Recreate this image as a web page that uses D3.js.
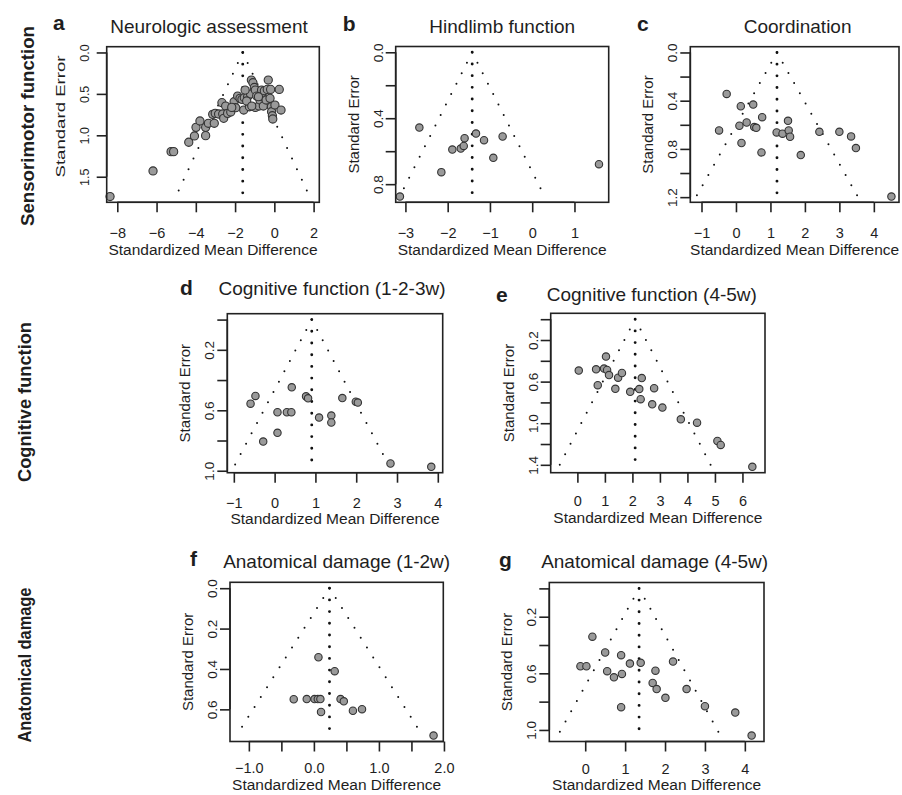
<!DOCTYPE html>
<html>
<head>
<meta charset="utf-8">
<script src="https://cdn.jsdelivr.net/npm/d3@7"></script>
<style>
  body { margin: 0; background: #fff; }
  text { font-family: "Liberation Sans", Arial, sans-serif; fill: #1e1e1e; }
</style>
</head>
<body>
<div id="chart"></div>
<script>
// ---- data ----
var panelLetters = ["a", "b", "c", "d", "e", "f", "g"];
var panelTitles = ["Neurologic assessment", "Hindlimb function", "Coordination",
                   "Cognitive function (1-2-3w)", "Cognitive function (4-5w)",
                   "Anatomical damage (1-2w)", "Anatomical damage (4-5w)"];
var rowLabels = ["Sensorimotor function", "Cognitive function", "Anatomical damage"];

// pooled standardized mean difference (centre of each funnel)
var pooledSMD = [-1.61, -1.42, 1.19, 0.91, 2.10, 0.24, 1.35];

// a: neurologic assessment
var smdA = [-8.37, -6.18, -5.26, -5.13, -4.36, -4.07, -3.99, -3.79, -3.50, -3.50, -3.36, -3.06, -3.14, -3.01,
            -2.84, -2.63, -2.58, -2.67, -2.48, -2.38, -2.22, -2.05, -1.97, -1.87, -1.75, -1.65, -1.56, -1.53,
            -1.36, -1.27, -1.21, -1.17, -1.09, -1.02, -0.97, -0.97, -0.90, -0.78, -0.73, -0.65, -0.63, -0.56,
            -0.51, -0.42, -0.36, -0.31, -0.22, -0.19, -0.15, -0.14, -0.10, -0.08, 0.03, 0.25, 0.34,
            -1.49, -1.41, -2.17, -0.81, -1.15];
var seA = [1.739, 1.430, 1.197, 1.197, 1.084, 1.008, 0.904, 0.827, 0.904, 1.004, 0.855, 0.855, 0.747, 0.735,
           0.743, 0.743, 0.795, 0.606, 0.647, 0.735, 0.719, 0.594, 0.667, 0.526, 0.554, 0.566, 0.695, 0.546,
           0.534, 0.655, 0.502, 0.333, 0.365, 0.422, 0.454, 0.663, 0.526, 0.647, 0.574, 0.454, 0.534, 0.647,
           0.462, 0.574, 0.446, 0.333, 0.554, 0.446, 0.655, 0.715, 0.763, 0.803, 0.635, 0.446, 0.695,
           0.454, 0.586, 0.663, 0.534, 0.647];

// b: hindlimb function
var smdB = [-3.13, -2.67, -2.15, -1.89, -1.69, -1.62, -1.60, -1.33, -1.14, -0.92, -0.70, 1.58];
var seB  = [0.875, 0.457, 0.727, 0.590, 0.584, 0.568, 0.521, 0.493, 0.533, 0.640, 0.511, 0.679];

// c: coordination
var smdC = [-0.49, -0.27, 0.10, 0.14, 0.16, 0.31, 0.50, 0.53, 0.59, 0.76, 0.74, 1.18, 1.35, 1.51, 1.53,
            1.57, 1.88, 2.42, 3.00, 3.34, 3.48, 4.51];
var seC  = [0.647, 0.344, 0.608, 0.446, 0.751, 0.581, 0.432, 0.619, 0.625, 0.537, 0.829, 0.663, 0.674,
            0.567, 0.647, 0.699, 0.851, 0.658, 0.658, 0.696, 0.793, 1.195];

// d: cognitive function 1-2-3 weeks
var smdD = [-0.59, -0.47, -0.28, 0.07, 0.07, 0.30, 0.41, 0.42, 0.77, 0.82, 1.09, 1.39, 1.39, 1.66, 1.99,
            2.04, 2.84, 3.84];
var seD  = [0.556, 0.505, 0.807, 0.613, 0.749, 0.613, 0.613, 0.448, 0.508, 0.521, 0.648, 0.635, 0.681,
            0.519, 0.543, 0.549, 0.952, 0.974];

// e: cognitive function 4-5 weeks
var smdE = [0.05, 0.68, 0.74, 0.97, 1.04, 1.08, 1.15, 1.38, 1.48, 1.62, 1.92, 2.25, 2.30, 2.34, 2.79,
            2.72, 3.09, 3.76, 4.35, 5.09, 5.21, 6.36];
var seE  = [0.494, 0.482, 0.634, 0.475, 0.359, 0.488, 0.537, 0.669, 0.562, 0.517, 0.698, 0.672, 0.769,
            0.566, 0.663, 0.818, 0.850, 0.963, 0.995, 1.170, 1.209, 1.419];

// f: anatomical damage 1-2 weeks
var smdF = [-0.31, -0.11, 0.01, 0.06, 0.10, 0.07, 0.11, 0.32, 0.41, 0.46, 0.60, 0.74, 1.84];
var seF  = [0.550, 0.549, 0.549, 0.549, 0.549, 0.342, 0.613, 0.411, 0.549, 0.560, 0.607, 0.599, 0.730];

// g: anatomical damage 4-5 weeks
var smdG = [-0.12, 0.03, 0.18, 0.50, 0.55, 0.72, 0.90, 0.92, 0.90, 1.12, 1.39, 1.76, 1.69, 1.79, 2.01,
            2.20, 2.54, 3.00, 3.76, 4.17];
var seG  = [0.550, 0.550, 0.341, 0.453, 0.585, 0.628, 0.472, 0.604, 0.839, 0.531, 0.526, 0.581, 0.668,
            0.711, 0.773, 0.517, 0.711, 0.832, 0.877, 1.040];

var smdData = [smdA, smdB, smdC, smdD, smdE, smdF, smdG];
var seData  = [seA, seB, seC, seD, seE, seF, seG];

// tick values and labels (blank = label R dropped for overlap)
var xTicks = [[-8, -6, -4, -2, 0, 2], [-3, -2, -1, 0, 1], [-1, 0, 1, 2, 3, 4], [-1, 0, 1, 2, 3, 4],
              [0, 1, 2, 3, 4, 5, 6], [-1, -0.5, 0, 0.5, 1, 1.5, 2], [0, 1, 2, 3, 4]];
var xTickLabels = [["−8", "−6", "−4", "−2", "0", "2"], ["−3", "−2", "−1", "0", "1"],
                   ["−1", "0", "1", "2", "3", "4"], ["−1", "0", "1", "2", "3", "4"],
                   ["0", "1", "2", "3", "4", "5", "6"], ["−1.0", "", "0.0", "", "1.0", "", "2.0"],
                   ["0", "1", "2", "3", "4"]];
var yTicks = [[0, 0.5, 1.0, 1.5], [0, 0.2, 0.4, 0.6, 0.8], [0, 0.2, 0.4, 0.6, 0.8, 1.0, 1.2],
              [0, 0.2, 0.4, 0.6, 0.8, 1.0], [0, 0.2, 0.4, 0.6, 0.8, 1.0, 1.2, 1.4],
              [0, 0.2, 0.4, 0.6], [0, 0.2, 0.4, 0.6, 0.8, 1.0]];
var yTickLabels = [["0.0", "0.5", "1.0", "1.5"], ["0.0", "", "0.4", "", "0.8"],
                   ["0.0", "", "0.4", "", "0.8", "", "1.2"], ["", "0.2", "", "0.6", "", "1.0"],
                   ["", "0.2", "", "0.6", "", "1.0", "", "1.4"], ["0.0", "0.2", "0.4", "0.6"],
                   ["", "0.2", "", "0.6", "", "1.0"]];

// ---- layout (pixel boxes of each plot region, x range shown) ----
var boxes = [
  { x0: 106.7, x1: 319.3, y0: 46.7, y1: 202.3 },
  { x0: 395.7, x1: 608.7, y0: 46.5, y1: 202.3 },
  { x0: 690.3, x1: 899.0, y0: 46.7, y1: 202.3 },
  { x0: 227.3, x1: 442.7, y0: 313.7, y1: 472.7 },
  { x0: 550.7, x1: 765.0, y0: 313.3, y1: 472.7 },
  { x0: 230.0, x1: 443.3, y0: 582.3, y1: 741.5 },
  { x0: 549.3, x1: 764.0, y0: 582.5, y1: 741.5 }
];
var xDomains = [[-8.54, 2.29], [-3.23, 1.81], [-1.325, 4.73], [-1.16, 4.12], [-0.97, 6.82],
                [-1.29, 1.99], [-0.90, 4.48]];
var titleBase = [33, 33, 33, 295, 301, 568, 568];
var titleShift = [-4, 0, 3, -3, -6, 0, -2];
var xTickPad = [15, 15, 15, 15, 13, 11, 12];
var xLabOff = [53, 53, 53, 51, 50, 48, 48];
var letterPos = [[53, 30], [342.7, 30.7], [637, 30.7], [180, 295], [496, 302], [190, 566], [499, 567]];
var rowLabelPos = [[27, 126, 200], [24, 402, 160], [24, 665, 155]];

var width = 902, height = 795;

var svg = d3.select("#chart")
    .append("svg")
    .attr("width", width)
    .attr("height", height);

svg.append("rect")
    .attr("width", width)
    .attr("height", height)
    .attr("fill", "#fff");

// row labels on the far left
rowLabels.forEach(function (lab, i) {
    var p = rowLabelPos[i];
    svg.append("text")
        .attr("transform", "translate(" + p[0] + "," + p[1] + ") rotate(-90)")
        .attr("text-anchor", "middle")
        .attr("dy", "0.35em")
        .attr("font-size", 19)
        .attr("font-weight", "bold")
        .attr("textLength", p[2])
        .attr("lengthAdjust", "spacingAndGlyphs")
        .text(lab);
});

panelLetters.forEach(function (letter, i) {
    var b = boxes[i];
    var smd = smdData[i], se = seData[i];
    var ymax = d3.max(se);
    var centre = pooledSMD[i];

    var x = d3.scaleLinear().domain(xDomains[i]).range([b.x0, b.x1]);
    var y = d3.scaleLinear().domain([-0.04 * ymax, 1.04 * ymax]).range([b.y0, b.y1]);

    var g = svg.append("g").attr("class", "panel-" + letter);

    // funnel: pseudo 95% limits, dotted like R's lty = 3
    [-1, 1].forEach(function (s) {
        g.append("line")
            .attr("x1", x(centre)).attr("y1", y(0))
            .attr("x2", x(centre + s * 1.96 * ymax)).attr("y2", y(ymax))
            .attr("stroke", "#111")
            .attr("stroke-width", 2)
            .attr("stroke-linecap", "round")
            .attr("stroke-dasharray", "0,11.7");
    });
    g.append("line")
        .attr("x1", x(centre)).attr("y1", y(0))
        .attr("x2", x(centre)).attr("y2", y(ymax))
        .attr("stroke", "#111")
        .attr("stroke-width", 2.9)
        .attr("stroke-linecap", "round")
        .attr("stroke-dasharray", "0,11.7");

    // studies
    g.selectAll(".study")
        .data(d3.range(smd.length))
        .enter().append("circle")
        .attr("class", "study")
        .attr("cx", function (j) { return x(smd[j]); })
        .attr("cy", function (j) { return y(se[j]); })
        .attr("r", i === 0 ? 4.1 : 3.7)
        .attr("fill", "#9a9a9a")
        .attr("stroke", "#333")
        .attr("stroke-width", 1.1);

    // plot box
    g.append("rect")
        .attr("x", b.x0).attr("y", b.y0)
        .attr("width", b.x1 - b.x0).attr("height", b.y1 - b.y0)
        .attr("fill", "none")
        .attr("stroke", "#222")
        .attr("stroke-width", 1.6);

    // x axis (R style: line only between first and last tick)
    var xt = xTicks[i], xl = xTickLabels[i];
    var xAxis = g.append("g")
        .attr("transform", "translate(0," + b.y1 + ")")
        .call(d3.axisBottom(x).tickValues(xt)
            .tickFormat(function (d, j) { return xl[j]; })
            .tickSize(10).tickPadding(xTickPad[i]).tickSizeOuter(0));
    xAxis.select(".domain").remove();
    xAxis.append("line")
        .attr("x1", x(xt[0])).attr("x2", x(xt[xt.length - 1]))
        .attr("stroke", "#222").attr("stroke-width", 1.6);
    xAxis.selectAll(".tick line").attr("stroke", "#222").attr("stroke-width", 1.6);
    xAxis.selectAll(".tick text")
        .attr("font-size", 14.5)
        .attr("font-family", "Liberation Sans, Arial, sans-serif")
        .attr("fill", "#1e1e1e");

    // y axis, labels parallel to the axis
    var yt = yTicks[i], yl = yTickLabels[i];
    var yAxis = g.append("g")
        .attr("transform", "translate(" + b.x0 + ",0)")
        .call(d3.axisLeft(y).tickValues(yt)
            .tickFormat(function (d, j) { return yl[j]; })
            .tickSize(10).tickSizeOuter(0));
    yAxis.select(".domain").remove();
    yAxis.append("line")
        .attr("y1", y(yt[0])).attr("y2", y(yt[yt.length - 1]))
        .attr("stroke", "#222").attr("stroke-width", 1.6);
    yAxis.selectAll(".tick line").attr("stroke", "#222").attr("stroke-width", 1.6);
    yAxis.selectAll(".tick text")
        .attr("transform", "rotate(-90)")
        .attr("x", 0)
        .attr("y", i === 0 ? -18 : -13)
        .attr("dy", 0)
        .attr("text-anchor", "middle")
        .attr("font-size", i === 0 ? 12.5 : 13.5)
        .attr("font-family", "Liberation Sans, Arial, sans-serif")
        .attr("fill", "#1e1e1e");

    // axis titles
    g.append("text")
        .attr("x", (b.x0 + b.x1) / 2)
        .attr("y", b.y1 + xLabOff[i])
        .attr("text-anchor", "middle")
        .attr("font-size", 15.5)
        .text("Standardized Mean Difference");

    var yLab = g.append("text")
        .attr("transform", "translate(" + (b.x0 - (i === 0 ? 42 : 37)) + "," + ((b.y0 + b.y1) / 2 - (i === 0 ? 8 : 0)) + ") rotate(-90)")
        .attr("text-anchor", "middle")
        .attr("font-size", i === 0 ? 13.5 : 15)
        .text("Standard Error");
    if (i === 0) yLab.attr("textLength", 122).attr("lengthAdjust", "spacingAndGlyphs");

    // panel title and letter
    g.append("text")
        .attr("x", (b.x0 + b.x1) / 2 + titleShift[i])
        .attr("y", titleBase[i])
        .attr("text-anchor", "middle")
        .attr("font-size", 19)
        .text(panelTitles[i]);

    g.append("text")
        .attr("x", letterPos[i][0])
        .attr("y", letterPos[i][1])
        .attr("font-size", 21)
        .attr("font-weight", "bold")
        .text(letter);
});
</script>
</body>
</html>
